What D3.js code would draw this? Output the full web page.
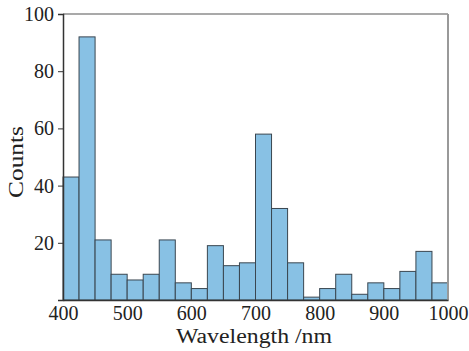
<!DOCTYPE html>
<html>
<head>
<meta charset="utf-8">
<script src="https://cdn.jsdelivr.net/npm/d3@7"></script>
<style>
  body { margin: 0; background: #fff; }
  text { font-family: "Liberation Serif", "DejaVu Serif", serif; fill: #222; }
</style>
</head>
<body>
<div id="chart"></div>
<script>
// histogram bins, 25 nm wide
const binStarts = [400, 425, 450, 475, 500, 525, 550, 575, 600, 625, 650, 675,
                   700, 725, 750, 775, 800, 825, 850, 875, 900, 925, 950, 975];
const counts = [43, 92, 21, 9, 7, 9, 21, 6, 4, 19, 12, 13,
                58, 32, 13, 1, 4, 9, 2, 6, 4, 10, 17, 6];
const binWidth = 25;
const xTicks = [400, 500, 600, 700, 800, 900, 1000];
const yTicks = [20, 40, 60, 80, 100];

const width = 469, height = 351;
const margin = {top: 14, right: 21, bottom: 52, left: 63};

const svg = d3.select("#chart").append("svg")
  .attr("width", width)
  .attr("height", height);

const x = d3.scaleLinear().domain([400, 1000]).range([margin.left, width - margin.right]);
const y = d3.scaleLinear().domain([0, 100]).range([height - margin.bottom + 1, margin.top]);

const bars = binStarts.map((b, i) => ({start: b, count: counts[i]}));

svg.selectAll("rect.bar")
  .data(bars)
  .join("rect")
  .attr("class", "bar")
  .attr("x", d => x(d.start))
  .attr("y", d => y(d.count))
  .attr("width", d => x(d.start + binWidth) - x(d.start))
  .attr("height", d => y(0) - y(d.count))
  .attr("fill", "#88c1e4")
  .attr("stroke", "#3a4650")
  .attr("stroke-width", 1);

// frame
svg.append("line")
  .attr("x1", x(400)).attr("x2", x(1000))
  .attr("y1", y(100)).attr("y2", y(100))
  .attr("stroke", "#555").attr("stroke-width", 1.2);
svg.append("line")
  .attr("x1", x(1000)).attr("x2", x(1000))
  .attr("y1", y(100)).attr("y2", y(0))
  .attr("stroke", "#999").attr("stroke-width", 2);

const xAxis = svg.append("g")
  .attr("transform", `translate(0,${y(0)})`)
  .call(d3.axisBottom(x).tickValues(xTicks).tickFormat(d3.format("d")).tickSize(0).tickPadding(6));
xAxis.select(".domain").attr("stroke", "#333").attr("stroke-width", 1.5);
xAxis.selectAll("text").attr("font-size", 20).attr("font-family", "Liberation Serif").attr("fill", "#222");

const yAxis = svg.append("g")
  .attr("transform", `translate(${x(400)},0)`)
  .call(d3.axisLeft(y).tickValues(yTicks).tickSize(5).tickPadding(4));
yAxis.select(".domain").attr("stroke", "#333").attr("stroke-width", 1.5);
yAxis.selectAll(".tick line").attr("stroke", "#333");
yAxis.selectAll("text").attr("font-size", 20).attr("font-family", "Liberation Serif").attr("fill", "#222");

svg.append("text")
  .attr("x", 254)
  .attr("y", 343)
  .attr("text-anchor", "middle")
  .attr("font-size", 20)
  .attr("textLength", 156)
  .attr("lengthAdjust", "spacingAndGlyphs")
  .text("Wavelength /nm");

svg.append("text")
  .attr("transform", `translate(23,162) rotate(-90)`)
  .attr("text-anchor", "middle")
  .attr("font-size", 21)
  .attr("textLength", 72)
  .attr("lengthAdjust", "spacingAndGlyphs")
  .text("Counts");
</script>
</body>
</html>
